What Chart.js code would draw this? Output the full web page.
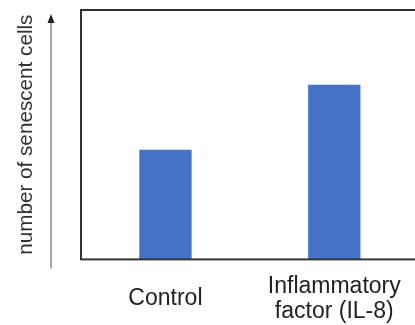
<!DOCTYPE html>
<html>
<head>
<meta charset="utf-8">
<script src="https://cdn.jsdelivr.net/npm/chart.js@4.4.1/dist/chart.umd.min.js"></script>
<style>
  html, body { margin: 0; padding: 0; background: #fff; overflow: hidden; }
  #wrap { position: relative; width: 430px; height: 364px; }
</style>
</head>
<body>
<div id="wrap"><canvas id="chart"></canvas></div>
<script>
// ---------- Data ----------
const categories = ["Control", ["Inflammatory", "factor (IL-8)"]];
const senescentCells = [44, 70];
const yTitle = "number of senescent cells";

const FONT = "Arial, 'Liberation Sans', sans-serif";

// ---------- Plot box + axis arrow ----------
const boxAndArrow = {
  id: "boxAndArrow",
  afterDatasetsDraw(chart) {
    const { ctx, chartArea: a } = chart;
    ctx.save();
    ctx.strokeStyle = "#333";
    ctx.lineWidth = 2;
    ctx.strokeRect(a.left, a.top, a.right - a.left, a.bottom - a.top);

    // arrow to the left of the box
    const x = a.left - 30;
    ctx.strokeStyle = "#888";
    ctx.lineWidth = 1.5;
    ctx.beginPath();
    ctx.moveTo(x, a.bottom + 9);
    ctx.lineTo(x, a.top + 10);
    ctx.stroke();
    ctx.fillStyle = "#222";
    ctx.beginPath();
    ctx.moveTo(x, a.top + 4);
    ctx.lineTo(x - 3.5, a.top + 13);
    ctx.lineTo(x + 3.5, a.top + 13);
    ctx.closePath();
    ctx.fill();
    ctx.restore();
  }
};

new Chart(document.getElementById("chart"), {
  type: "bar",
  data: {
    labels: categories,
    datasets: [{
      data: senescentCells,
      backgroundColor: "#4472C4",
      barPercentage: 0.31,
      categoryPercentage: 1
    }]
  },
  options: {
    responsive: true,
    maintainAspectRatio: false,
    animation: false,
    layout: { padding: { left: 14, top: 10, right: 9, bottom: 0 } },
    plugins: { legend: { display: false }, tooltip: { enabled: false } },
    scales: {
      x: {
        grid: { display: false, drawTicks: false },
        border: { display: false },
        ticks: {
          color: "#222",
          padding: 27,
          crossAlign: "center",
          maxRotation: 0,
          autoSkip: false,
          font: { family: FONT, size: 23, lineHeight: 1.1 }
        }
      },
      y: {
        min: 0,
        max: 100,
        grid: { display: false, drawTicks: false },
        border: { display: false },
        ticks: { display: false },
        title: {
          display: true,
          text: yTitle,
          color: "#333",
          padding: { top: 0, bottom: 43 },
          font: { family: FONT, size: 20.7, lineHeight: 1.16 }
        }
      }
    }
  },
  plugins: [boxAndArrow]
});
</script>
</body>
</html>
